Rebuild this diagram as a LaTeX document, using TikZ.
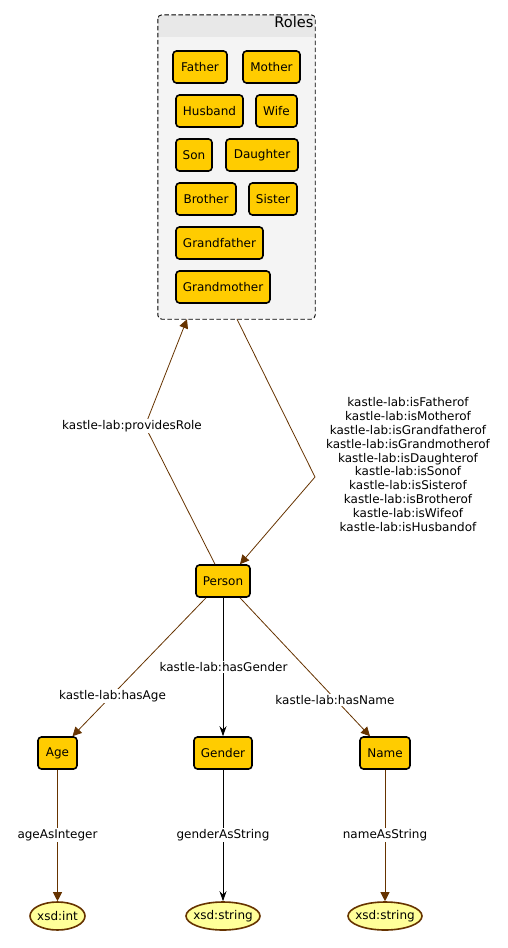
\documentclass[tikz,border=0pt]{standalone}
\usepackage{fontspec}
\setmainfont{DejaVu Sans}
\usetikzlibrary{arrows.meta,calc,shapes.geometric}
\definecolor{gold}{RGB}{255,204,0}
\definecolor{brn}{RGB}{102,51,0}
\definecolor{lyel}{RGB}{255,255,153}
\definecolor{clfill}{RGB}{244,244,244}
\definecolor{clhead}{RGB}{232,232,232}
\begin{document}
\begin{tikzpicture}[x=1pt,y=-1pt,
  txt/.style={font=\fontsize{12}{13.9}\selectfont},
  cls/.style={txt, draw=black, line width=1.6pt, fill=gold, rounded corners=3.5pt, minimum height=32pt, inner sep=0pt},
  lit/.style={txt, ellipse, draw=brn, line width=1.6pt, fill=lyel, minimum height=28pt, inner ysep=0pt},
  lbl/.style={txt, fill=white, inner sep=1pt},
  be/.style={draw=brn, line width=0.8pt, -{Triangle[length=9pt,width=9pt]}},
  ke/.style={draw=black, line width=0.9pt, -{Stealth[length=10pt,width=7pt]}}]
\useasboundingbox (0,0) rectangle (508,948);
% cluster
\node[minimum width=157pt, minimum height=304pt, inner sep=0pt] (roles) at (236.5,167) {};
\begin{scope}
  \clip[rounded corners=4pt] (roles.north west) rectangle (roles.south east);
  \fill[clfill] (roles.north west) rectangle (roles.south east);
  \fill[clhead] (roles.north west) rectangle ($(roles.north east)+(0,22)$);
\end{scope}
\draw[dash pattern=on 4.5pt off 2.5pt, line width=0.9pt, rounded corners=4pt] (roles.north west) rectangle (roles.south east);
\node[anchor=north east, font=\fontsize{14.6}{16}\selectfont, inner sep=1.5pt] (roleslbl) at (roles.north east) {Roles};
% role nodes
\node[cls, minimum width=54pt] (father) at (200,67) {Father};
\node[cls, minimum width=57pt] (mother) at (271.5,67) {Mother};
\node[cls, minimum width=67pt] (husband) at (209.5,111) {Husband};
\node[cls, minimum width=41pt] (wife) at (276.5,111) {Wife};
\node[cls, minimum width=36pt] (son) at (194,155) {Son};
\node[cls, minimum width=72pt] (daughter) at (262,155) {Daughter};
\node[cls, minimum width=60pt] (brother) at (206,199) {Brother};
\node[cls, minimum width=48pt] (sister) at (273,199) {Sister};
\node[cls, minimum width=87pt] (gfather) at (219.5,243) {Grandfather};
\node[cls, minimum width=94pt] (gmother) at (223,287) {Grandmother};
% main nodes
\node[cls, minimum width=54pt] (person) at (223,581) {Person};
\node[cls, minimum width=39pt] (age) at (57.5,753) {Age};
\node[cls, minimum width=58pt] (gender) at (223,753) {Gender};
\node[cls, minimum width=50pt] (name) at (385,753) {Name};
\node[lit, minimum width=55pt, inner xsep=-2pt] (int) at (57.5,916) {xsd:int};
\node[lit, minimum width=74pt, inner xsep=-4pt] (gstr) at (223,916) {xsd:string};
\node[lit, minimum width=74pt, inner xsep=-4pt] (nstr) at (385,916) {xsd:string};
% edges
\coordinate (b1) at (145,426);
\coordinate (b2) at (315,477);
\draw[be] ([xshift=-8pt]person.north) -- (b1) -- ([xshift=-49.5pt]roles.south);
\node[lbl] (l1) at (132,426) {kastle-lab:providesRole};
\draw[be] ([xshift=0.5pt]roles.south) -- (b2) -- ([xshift=17pt]person.north);
\node[txt, align=center, inner sep=0pt] (l2) at (408,464.5) {kastle-lab:isFatherof\\kastle-lab:isMotherof\\kastle-lab:isGrandfatherof\\kastle-lab:isGrandmotherof\\kastle-lab:isDaughterof\\kastle-lab:isSonof\\kastle-lab:isSisterof\\kastle-lab:isBrotherof\\kastle-lab:isWifeof\\kastle-lab:isHusbandof};
\draw[be] ([xshift=-17pt]person.south) -- ([xshift=15pt]age.north);
\node[lbl] (l3) at (112.5,696) {kastle-lab:hasAge};
\draw[ke] (person.south) -- (gender.north);
\node[lbl] (l4) at (223.5,667) {kastle-lab:hasGender};
\draw[be] ([xshift=17pt]person.south) -- ([xshift=-15pt]name.north);
\node[lbl] (l5) at (335,700) {kastle-lab:hasName};
\draw[be] (age.south) -- (int.north);
\node[lbl] (l6) at (57.5,835) {ageAsInteger};
\draw[ke] (gender.south) -- (gstr.north);
\node[lbl] (l7) at (223,835) {genderAsString};
\draw[be] (name.south) -- (nstr.north);
\node[lbl] (l8) at (385,835) {nameAsString};
\end{tikzpicture}
\end{document}
